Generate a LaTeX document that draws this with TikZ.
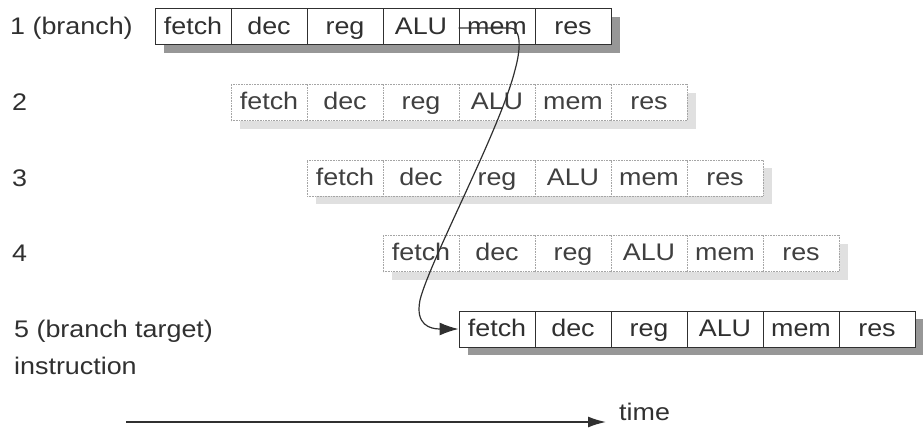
\documentclass[tikz,border=0pt]{standalone}
\usepackage{fontspec}
\setmainfont{Liberation Sans}[FakeStretch=1.12]
\usetikzlibrary{arrows.meta}
\definecolor{ink}{HTML}{303030}
\definecolor{lightink}{HTML}{404040}
\definecolor{shadowdark}{HTML}{979797}
\definecolor{shadowlight}{HTML}{E0E0E0}
\definecolor{lightborder}{HTML}{A5A5A5}
\begin{document}
\begin{tikzpicture}[x=1pt,y=-1pt,
  cellA/.style={draw=ink, line width=1pt, fill=white, minimum width=76pt,
    minimum height=36pt, inner sep=0pt, text=ink, text height=16.5pt, text depth=2pt,
    font=\fontsize{24}{27}\selectfont},
  cellB/.style={cellA, draw=lightborder, line width=0.6pt, densely dotted, text=lightink},
  shadA/.style={fill=shadowdark},
  shadB/.style={fill=shadowlight},
  lab/.style={anchor=base west, text=ink, inner sep=0pt, font=\fontsize{24}{27}\selectfont},
  link/.style={draw=ink, line width=1.2pt},
]
\useasboundingbox (0,0) rectangle (923,428);
% shadows
\foreach \r/\s in {1/shadA,2/shadB,3/shadB,4/shadB,5/shadA}{
  \pgfmathsetmacro{\xo}{155+76*(\r-1)}
  \pgfmathsetmacro{\yo}{9+75.5*(\r-1)}
  \fill[\s] (\xo+9,\yo+8) rectangle (\xo+456+9,\yo+36+8);
}
% cells
\foreach \r/\st in {1/cellA,2/cellB,3/cellB,4/cellB,5/cellA}{
  \foreach \c/\t in {1/fetch,2/dec,3/reg,4/ALU,5/mem,6/res}{
    \pgfmathsetmacro{\xc}{155+76*(\r-1)+76*(\c-1)+38}
    \pgfmathsetmacro{\yc}{9+75.5*(\r-1)+18}
    \node[\st] (r\r c\c) at (\xc,\yc) {\t};
  }
}
% labels
\node[lab] (l1) at (10,35) {1 (branch)};
\node[lab] (l2) at (12,110.5) {2};
\node[lab] (l3) at (12,186) {3};
\node[lab] (l4) at (12,261.5) {4};
\node[lab] (l5) at (14,337) {5 (branch target)};
\node[lab] (l6) at (14,374) {instruction};
% branch connector
\draw[link, -{Latex[length=19pt,width=13pt]}]
  (r1c5.west |- 0,28) -- (510,28)
  .. controls (520,28) and (522,45) .. (515,70)
  .. controls (500,130) and (430,260) .. (420,300)
  .. controls (415,325) and (430,329) .. (r5c1.west);
% time axis
\coordinate (t0) at (126,422);
\coordinate (t1) at (606,422);
\draw[draw=ink, line width=1.5pt, -{Latex[length=18pt,width=11pt]}] (t0) -- (t1);
\node[lab] (time) at (619,420) {time};
\end{tikzpicture}
\end{document}
